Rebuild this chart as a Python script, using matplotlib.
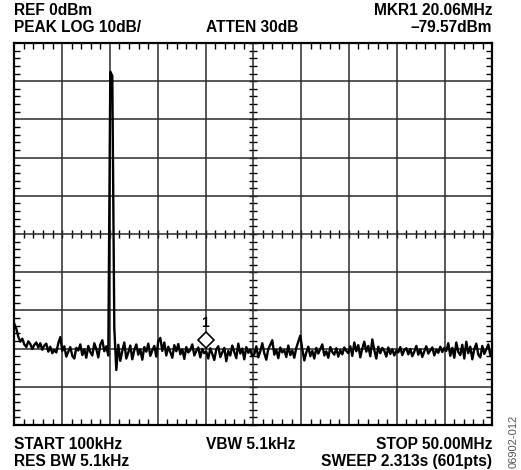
import numpy as np
import matplotlib.pyplot as plt
from matplotlib.ticker import MultipleLocator, NullFormatter
import matplotlib.transforms as mtransforms

plt.rcParams['font.family'] = 'Liberation Sans'
plt.rcParams['font.weight'] = 'bold'

# sweep settings (MHz) and trace (dBm), 24 samples/div
f_start, f_stop = 0.1, 50.0
trace = [
    # div 0
    -73.5, -74.8, -76.9, -78.2, -77.4, -78.9, -79.6, -78.1, -78.8, -80.1,
    -79.0, -78.4, -79.7, -78.6, -80.3, -79.2, -78.7, -80.8, -79.5, -81.2,
    -80.4, -81.0, -78.6, -77.0,
    # div 1
    -80.6, -79.4, -82.1, -80.8, -79.6, -81.9, -82.6, -79.8, -80.5, -78.9,
    -81.7, -80.2, -82.4, -79.3, -80.9, -81.8, -78.6, -80.1, -82.3, -79.0,
    -77.8, -80.7, -79.4, -81.8,
    # div 2 (carrier)
    -7.5, -8.6, -74.5, -85.6, -79.0, -83.2, -80.6, -78.4, -82.6, -81.0,
    -79.2, -82.8, -80.4, -78.9, -81.6, -80.2, -82.9, -79.6, -80.8, -78.7,
    -81.9, -80.5, -79.3, -82.1,
    # div 3
    -78.0, -77.2, -80.6, -78.4, -81.8, -79.5, -80.9, -82.4, -79.1, -80.7,
    -78.8, -81.5, -80.2, -82.7, -79.6, -81.0, -80.4, -78.9, -81.8, -80.6,
    -79.7, -82.3, -80.1, -81.2,
    # div 4
    -80.8, -82.6, -79.9, -81.4, -83.0, -80.2, -79.4, -82.2, -81.0, -79.8,
    -83.3, -80.6, -81.8, -79.2, -80.9, -82.5, -78.7, -81.3, -80.0, -82.8,
    -79.6, -81.1, -80.3, -82.0,
    # div 5
    -81.5, -79.4, -82.3, -80.7, -78.6, -81.2, -82.9, -80.1, -79.0, -77.8,
    -81.6, -80.3, -82.5, -79.7, -81.0, -80.4, -82.2, -79.2, -81.7, -80.5,
    -82.4, -79.8, -78.2, -76.6,
    # div 6
    -80.2, -83.1, -81.0, -79.5, -82.0, -80.6, -82.6, -79.8, -81.3, -80.1,
    -78.9, -81.8, -80.7, -82.4, -79.6, -80.9, -81.6, -79.9, -82.1, -80.4,
    -81.5, -79.7, -80.6, -81.2,
    # div 7
    -79.4, -81.9, -78.4, -80.7, -79.1, -82.3, -80.0, -78.2, -80.8, -79.3,
    -82.0, -77.6, -80.4, -82.6, -79.5, -81.2, -79.8, -80.6, -82.1, -79.7,
    -81.4, -80.2, -81.8, -80.5,
    # div 8
    -81.0, -79.6, -81.7, -80.4, -79.9, -81.5, -80.1, -82.0, -80.8, -79.3,
    -81.6, -80.2, -82.2, -80.7, -79.4, -81.3, -80.5, -79.7, -81.8, -80.3,
    -81.1, -79.5, -80.9, -79.8,
    # div 9
    -80.6, -78.6, -81.9, -79.8, -82.4, -78.4, -80.9, -81.7, -79.0, -82.6,
    -78.2, -81.2, -79.5, -82.8, -80.1, -78.7, -81.6, -82.3, -79.3, -81.4,
    -80.2, -78.9, -81.7, -80.4,
]
freqs = np.linspace(f_start, f_stop, len(trace))

mkr_freq = 20.06
mkr_level = -79.57
ref_level = 0
db_per_div = 10

fig = plt.figure(figsize=(5.21, 4.70), dpi=100)
ax = fig.add_axes([14.3 / 521, 1 - 425 / 470, 478 / 521, 382 / 470])

ax.plot(freqs, trace, color='black', lw=1.7, zorder=3)

# marker 1, drawn just above the trace point
off = mtransforms.offset_copy(ax.transData, fig=fig, x=0, y=7, units='dots')
ax.plot([mkr_freq], [mkr_level], marker='D', ms=8.3, mfc='white', mec='black',
        mew=1.2, transform=off, zorder=4)
off2 = mtransforms.offset_copy(ax.transData, fig=fig, x=0, y=19.5, units='dots')
ax.text(mkr_freq, mkr_level, '1', transform=off2, ha='center', va='baseline',
        fontsize=10, zorder=4)

ax.set_xlim(f_start, f_stop)
ax.set_ylim(ref_level - 10 * db_per_div, ref_level)
span = (f_stop - f_start) / 10
ax.set_xticks(f_start + span * np.arange(11))
ax.set_xticks(f_start + span / 5 * np.arange(51), minor=True)
ax.yaxis.set_major_locator(MultipleLocator(db_per_div))
ax.yaxis.set_minor_locator(MultipleLocator(db_per_div / 5))
ax.grid(True, which='major', color='#2a2a2a', lw=1.1)
ax.tick_params(which='both', direction='in', top=True, right=True,
               labelbottom=False, labelleft=False)
ax.tick_params(which='major', length=0)
ax.tick_params(which='minor', length=4, width=1, color='black')
for s in ax.spines.values():
    s.set_linewidth(1.6)

# cross ticks on the centre lines
sx = ax.secondary_xaxis(0.5)
sx.set_xticks([])
sx.set_xticks(f_start + span / 5 * np.arange(51), minor=True)
sx.tick_params(which='minor', direction='inout', length=6, width=1)
sx.xaxis.set_minor_formatter(NullFormatter())
sx.spines['bottom'].set_visible(False)
sx.spines['top'].set_visible(False)
sy = ax.secondary_yaxis(0.5)
sy.set_yticks([])
sy.yaxis.set_minor_locator(MultipleLocator(db_per_div / 5))
sy.tick_params(which='minor', direction='inout', length=6, width=1)
sy.yaxis.set_minor_formatter(NullFormatter())
sy.spines['left'].set_visible(False)
sy.spines['right'].set_visible(False)

fs = 11.2
W, H = 521, 470
def t(x, y, s, ha):
    fig.text(x / W, 1 - y / H, s, ha=ha, va='baseline', fontsize=fs,
             fontweight='bold')

t(14, 15, 'REF 0dBm', 'left')
t(14, 32, 'PEAK LOG 10dB/', 'left')
t(252, 32, 'ATTEN 30dB', 'center')
t(492, 15, 'MKR1 20.06MHz', 'right')
t(492, 32, '\u201379.57dBm', 'right')
t(14, 449, 'START 100kHz', 'left')
t(14, 466, 'RES BW 5.1kHz', 'left')
t(251, 449, 'VBW 5.1kHz', 'center')
t(492, 449, 'STOP 50.00MHz', 'right')
t(492, 466, 'SWEEP 2.313s (601pts)', 'right')
fig.text(514 / W, 1 - 468 / H, '06902-012', rotation=90, ha='center',
         va='bottom', fontsize=8, fontweight='normal', color='#555555')

fig.savefig('out.png', dpi=100)
